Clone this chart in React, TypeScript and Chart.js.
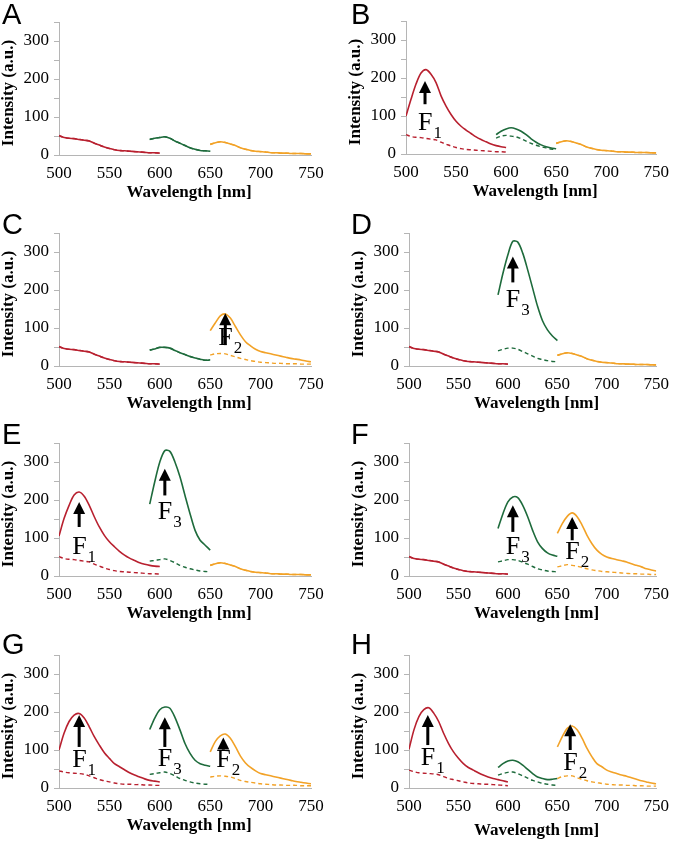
import React, { useEffect, useRef } from "react";
import { Chart, registerables } from "chart.js";
Chart.register(...registerables);

// ---------- data ----------
const WL_RED = [500, 505, 510, 515, 520, 525, 530, 535, 540, 545, 550, 555, 560, 565, 570, 575, 580, 585, 590, 595, 600];
const WL_GREEN = [590, 595, 600, 605, 610, 615, 620, 625, 630, 635, 640, 645, 650];
const WL_ORANGE = [650, 655, 660, 665, 670, 675, 680, 685, 690, 695, 700, 705, 710, 715, 720, 725, 730, 735, 740, 745, 750];
const Y_TICK_LABELS = [0, 100, 200, 300];

// baselines
const RED_BASE = [51, 46, 44, 43, 41, 39, 37, 31, 26, 21, 17, 14, 12, 11, 10, 9, 8, 7, 6, 6, 5];
const GREEN_BASE = [41, 44, 46, 48, 44, 37, 31, 25, 19, 15, 12, 11, 10];
const ORANGE_BASE = [28, 32, 35, 33, 29, 25, 19, 15, 12, 10, 9, 8, 6, 6, 5, 5, 4, 4, 4, 3, 3];

// B
const RED_B = [100, 144, 184, 213, 222, 210, 188, 153, 126, 104, 86, 73, 63, 54, 45, 38, 32, 26, 22, 19, 17];
const GREEN_B = [51, 60, 66, 69, 66, 60, 51, 40, 31, 24, 19, 16, 14];
const GREEN_DASH_B = [42, 47, 49, 47, 45, 40, 34, 28, 23, 19, 16, 13, 11];
// C
const GREEN_C = [42, 45, 49, 49, 47, 41, 35, 30, 25, 21, 18, 15, 16];
const ORANGE_C = [93, 113, 132, 137, 126, 104, 82, 64, 53, 44, 38, 35, 32, 29, 26, 23, 20, 18, 16, 13, 11];
const ORANGE_DASH_C = [29, 32, 33, 32, 28, 24, 20, 17, 14, 12, 10, 9, 8, 7, 7, 6, 6, 6, 5, 5, 5];
// D
const GREEN_D = [187, 244, 293, 328, 326, 297, 253, 205, 157, 119, 95, 79, 67];
const GREEN_DASH_D = [40, 44, 47, 47, 44, 38, 32, 26, 20, 17, 14, 12, 11];
// E
const RED_E = [105, 151, 186, 213, 221, 210, 186, 156, 129, 107, 90, 77, 65, 55, 47, 41, 35, 31, 28, 26, 25];
const GREEN_E = [189, 248, 300, 330, 328, 300, 261, 212, 164, 120, 94, 81, 68];
const GREEN_DASH_E = [39, 41, 43, 45, 41, 35, 28, 23, 19, 16, 13, 12, 11];
// F
const GREEN_F = [125, 164, 195, 208, 206, 186, 156, 120, 90, 72, 61, 55, 52];
const GREEN_DASH_F = [37, 40, 43, 43, 41, 36, 31, 25, 19, 16, 13, 12, 11];
const ORANGE_F = [112, 138, 157, 166, 156, 134, 107, 85, 68, 57, 50, 46, 43, 40, 37, 32, 28, 24, 19, 16, 13];
const ORANGE_DASH_F = [24, 27, 30, 28, 26, 22, 19, 16, 14, 12, 11, 10, 9, 8, 7, 6, 6, 5, 5, 4, 4];
// G
const RED_G = [100, 144, 175, 192, 196, 184, 161, 135, 113, 93, 78, 64, 56, 48, 40, 34, 29, 24, 20, 18, 16];
const RED_DASH_G = [45, 42, 40, 39, 38, 36, 32, 27, 22, 19, 16, 13, 11, 10, 10, 9, 9, 8, 8, 7, 7];
const GREEN_G = [154, 184, 206, 213, 210, 186, 153, 117, 91, 73, 64, 60, 57];
const GREEN_DASH_G = [36, 38, 40, 42, 38, 32, 25, 20, 16, 13, 11, 10, 10];
const ORANGE_G = [95, 122, 137, 142, 131, 109, 84, 66, 54, 45, 38, 35, 32, 29, 26, 23, 20, 17, 15, 13, 11];
const ORANGE_DASH_G = [29, 31, 32, 31, 29, 25, 20, 17, 15, 13, 11, 10, 9, 8, 8, 7, 7, 7, 6, 6, 6];
// H
const RED_H = [102, 153, 188, 206, 211, 197, 175, 144, 117, 95, 78, 64, 54, 47, 40, 34, 29, 25, 22, 19, 16];
const RED_DASH_H = [47, 43, 40, 39, 38, 37, 35, 30, 25, 22, 19, 16, 13, 12, 11, 10, 10, 9, 8, 7, 6];
const GREEN_H = [54, 64, 71, 73, 69, 60, 49, 38, 29, 25, 22, 23, 25];
const GREEN_DASH_H = [34, 38, 41, 42, 38, 32, 26, 20, 16, 12, 10, 8, 7];
const ORANGE_H = [108, 135, 157, 163, 153, 131, 104, 82, 64, 56, 47, 42, 38, 34, 31, 27, 23, 19, 16, 13, 11];
const ORANGE_DASH_H = [25, 30, 32, 32, 27, 23, 19, 16, 14, 12, 10, 9, 8, 8, 7, 7, 6, 6, 5, 5, 5];

// annotations: [subscript, wavelength, arrow bottom, arrow tip, label baseline]
const ARROWS_B = [["1", 519, 131, 192, 64]];
const ARROWS_C = [["2", 665, 55, 139, 55]];
const ARROWS_D = [["3", 605, 220, 288, 155]];
const ARROWS_E = [["1", 520, 129, 195, 57], ["3", 605, 212, 282, 150]];
const ARROWS_F = [["3", 605, 116, 186, 59], ["2", 665, 94, 155, 46]];
const ARROWS_G = [["1", 520, 108, 192, 54], ["3", 605, 108, 186, 57], ["2", 663, 101, 133, 54]];
const ARROWS_H = [["1", 519, 113, 192, 60], ["2", 663, 100, 168, 47]];

// ---------- styling / layout ----------
const RED = "#b8202f";
const GREEN = "#1e6b3c";
const ORANGE = "#f2a227";
const AXIS_GRAY = "#b5b5b5";
const SERIF = '"Liberation Serif", "Times New Roman", serif';
const SANS = '"Liberation Sans", Arial, sans-serif';
const PLOT_H = 133;

type Panel = {
  letter: string; left: number; top: number; h: number; axisX: number; right: number; zero: number;
  titleDy: number; letterX: number;
  red: number[][]; green: number[][]; orange: number[][]; arrows: any[];
};

const PANELS: Panel[] = [
  { letter: "A", left: 0, top: 0, h: 210, axisX: 59, right: 311, zero: 155, titleDy: 0, letterX: 2,
    red: [RED_BASE, RED_BASE], green: [GREEN_BASE, GREEN_BASE], orange: [ORANGE_BASE, ORANGE_BASE], arrows: [] },
  { letter: "B", left: 338, top: 0, h: 210, axisX: 68, right: 323, zero: 154, titleDy: 0, letterX: 13,
    red: [RED_B, RED_BASE], green: [GREEN_B, GREEN_DASH_B], orange: [ORANGE_BASE, ORANGE_BASE], arrows: ARROWS_B },
  { letter: "C", left: 0, top: 210, h: 210, axisX: 59, right: 311, zero: 156, titleDy: 0, letterX: 2,
    red: [RED_BASE, RED_BASE], green: [GREEN_C, GREEN_C], orange: [ORANGE_C, ORANGE_DASH_C], arrows: ARROWS_C },
  { letter: "D", left: 338, top: 210, h: 210, axisX: 71, right: 323, zero: 156, titleDy: 0, letterX: 13,
    red: [RED_BASE, RED_BASE], green: [GREEN_D, GREEN_DASH_D], orange: [ORANGE_BASE, ORANGE_BASE], arrows: ARROWS_D },
  { letter: "E", left: 0, top: 420, h: 210, axisX: 59, right: 311, zero: 156, titleDy: 0, letterX: 2,
    red: [RED_E, RED_BASE], green: [GREEN_E, GREEN_DASH_E], orange: [ORANGE_BASE, ORANGE_BASE], arrows: ARROWS_E },
  { letter: "F", left: 338, top: 420, h: 210, axisX: 71, right: 323, zero: 156, titleDy: 0, letterX: 13,
    red: [RED_BASE, RED_BASE], green: [GREEN_F, GREEN_DASH_F], orange: [ORANGE_F, ORANGE_DASH_F], arrows: ARROWS_F },
  { letter: "G", left: 0, top: 630, h: 218, axisX: 59, right: 311, zero: 158, titleDy: 0, letterX: 2,
    red: [RED_G, RED_DASH_G], green: [GREEN_G, GREEN_DASH_G], orange: [ORANGE_G, ORANGE_DASH_G], arrows: ARROWS_G },
  { letter: "H", left: 338, top: 630, h: 218, axisX: 71, right: 323, zero: 158, titleDy: 5, letterX: 13,
    red: [RED_H, RED_DASH_H], green: [GREEN_H, GREEN_DASH_H], orange: [ORANGE_H, ORANGE_DASH_H], arrows: ARROWS_H },
];

const W = 339;

function buildChart(canvas: HTMLCanvasElement, p: Panel) {
  const datasets: any[] = [];
  const add = (wl: number[], vals: number[], color: string, dashed: boolean) => {
    datasets.push({
      data: wl.map((x, i) => ({ x, y: vals[i] })),
      borderColor: color,
      borderWidth: dashed ? 1.4 : 1.6,
      borderDash: dashed ? [4, 3] : [],
      pointRadius: 0,
      tension: 0.3,
      fill: false,
    });
  };
  add(WL_RED, p.red[1], RED, true);
  add(WL_GREEN, p.green[1], GREEN, true);
  add(WL_ORANGE, p.orange[1], ORANGE, true);
  add(WL_RED, p.red[0], RED, false);
  add(WL_GREEN, p.green[0], GREEN, false);
  add(WL_ORANGE, p.orange[0], ORANGE, false);

  const annot = {
    id: "annot",
    afterDraw(chart: any) {
      const ctx = chart.ctx;
      const xs = chart.scales.x;
      const ys = chart.scales.y;
      const ca = chart.chartArea;
      ctx.save();
      // panel letter
      ctx.fillStyle = "#000";
      ctx.font = `29px ${SANS}`;
      ctx.textAlign = "left";
      ctx.textBaseline = "alphabetic";
      ctx.fillText(p.letter, p.letterX, 24);
      // x title
      ctx.font = `bold 17px ${SERIF}`;
      ctx.textAlign = "center";
      ctx.textBaseline = "middle";
      ctx.fillText("Wavelength [nm]", (ca.left + ca.right) / 2 + 4, ca.bottom + 38 + p.titleDy);
      // y title
      ctx.save();
      ctx.translate(p.axisX - 50, ca.bottom - 62);
      ctx.rotate(-Math.PI / 2);
      ctx.fillText("Intensity (a.u.)", 0, 0);
      ctx.restore();
      // arrows
      for (const a of p.arrows) {
        const [sub, wl, y0, y1, lb] = a;
        const px = xs.getPixelForValue(wl);
        const pb = ys.getPixelForValue(y0);
        const pt = ys.getPixelForValue(y1);
        const head = 12;
        ctx.strokeStyle = "#000";
        ctx.lineWidth = 3;
        ctx.beginPath();
        ctx.moveTo(px, pb);
        ctx.lineTo(px, pt + head - 1);
        ctx.stroke();
        ctx.beginPath();
        ctx.moveTo(px, pt);
        ctx.lineTo(px - 6, pt + head);
        ctx.lineTo(px + 6, pt + head);
        ctx.closePath();
        ctx.fill();
        // label
        const by = ys.getPixelForValue(lb);
        ctx.textAlign = "left";
        ctx.textBaseline = "alphabetic";
        ctx.font = `26px ${SERIF}`;
        const fx = px - 7;
        ctx.fillText("F", fx, by);
        const fw = ctx.measureText("F").width;
        ctx.font = `17px ${SERIF}`;
        ctx.fillText(sub, fx + fw + 1, by + 8);
      }
      ctx.restore();
    },
  };

  return new Chart(canvas, {
    type: "line",
    data: { datasets },
    plugins: [annot],
    options: {
      responsive: false,
      animation: false,
      events: [],
      layout: { padding: { left: 0, right: W - p.right, top: p.zero - PLOT_H, bottom: 0 } },
      plugins: { legend: { display: false }, tooltip: { enabled: false } },
      scales: {
        x: {
          type: "linear",
          min: 500,
          max: 750,
          ticks: { stepSize: 50, color: "#000", font: { family: SERIF, size: 17 }, padding: 8, maxRotation: 0, autoSkip: false },
          grid: { display: true, drawOnChartArea: false, drawTicks: false, color: AXIS_GRAY },
          border: { color: AXIS_GRAY, width: 1 },
          afterFit: (s: any) => { s.height = p.h - p.zero; },
        },
        y: {
          type: "linear",
          min: 0,
          max: 350,
          ticks: {
            stepSize: 50,
            autoSkip: false,
            color: "#000",
            font: { family: SERIF, size: 17 },
            padding: 5,
            callback: (v: any) => (Y_TICK_LABELS.includes(Number(v)) ? String(v) : ""),
          },
          grid: { display: true, drawOnChartArea: false, drawTicks: true, tickLength: 5, color: AXIS_GRAY },
          border: { color: AXIS_GRAY, width: 1 },
          afterFit: (s: any) => { s.width = p.axisX; },
        },
      },
    } as any,
  });
}

function PanelChart({ p }: { p: Panel }) {
  const ref = useRef<HTMLCanvasElement | null>(null);
  useEffect(() => {
    if (!ref.current) return;
    const c = buildChart(ref.current, p);
    return () => c.destroy();
  }, [p]);
  return (
    <canvas
      ref={ref}
      width={W}
      height={p.h}
      style={{ position: "absolute", left: p.left, top: p.top, width: W, height: p.h }}
    />
  );
}

export default function App() {
  return (
    <div style={{ position: "absolute", left: 0, top: 0, width: 677, height: 848, background: "#fff" }}>
      {PANELS.map((p) => (
        <PanelChart key={p.letter} p={p} />
      ))}
    </div>
  );
}
